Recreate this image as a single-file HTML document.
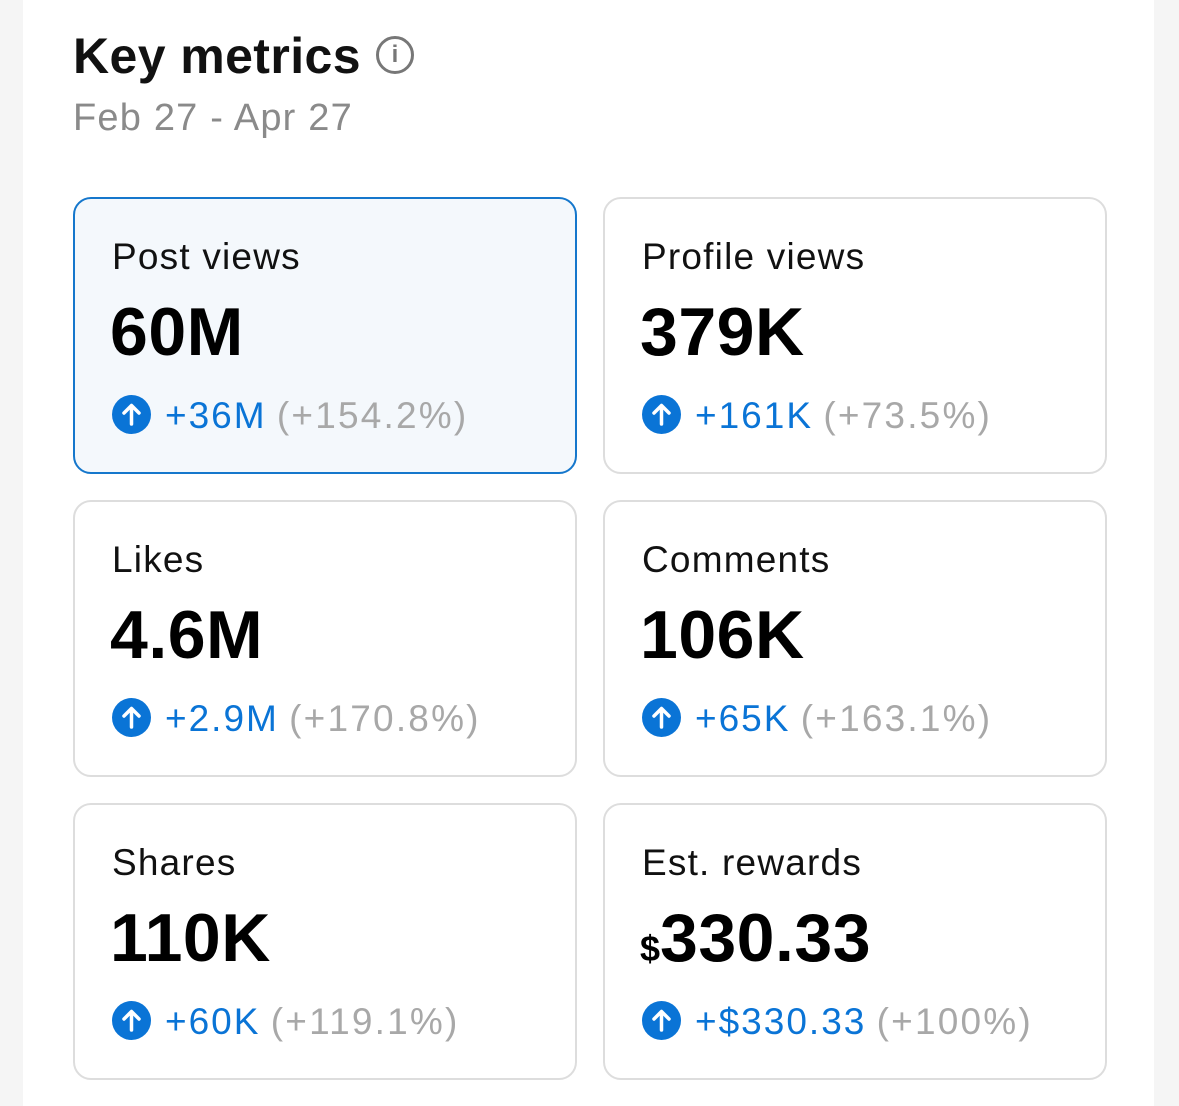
<!DOCTYPE html>
<html><head><meta charset="utf-8"><style>
body{margin:0;width:1179px;height:1106px;background:#f5f5f5;font-family:"Liberation Sans",sans-serif;overflow:hidden;position:relative}
.panel{position:absolute;left:23px;top:0;width:1131px;height:1106px;background:#fff}
.title{position:absolute;left:73px;top:27px;font-size:50px;font-weight:bold;color:#111;letter-spacing:0.4px}
.info{position:absolute;left:376px;top:36px;width:38px;height:38px;border:3px solid #777;border-radius:50%;box-sizing:border-box;color:#777;font-size:24px;font-weight:bold;text-align:center;line-height:32px}
.date{position:absolute;left:73px;top:97px;font-size:38px;color:#8a8a8a;letter-spacing:1.2px}
.card{position:absolute;width:504px;height:277px;border:2px solid #ddd;border-radius:18px;box-sizing:border-box;background:#fff}
.card.sel{border-color:#1577cc;background:#f4f8fc}
.lbl{position:absolute;left:37px;top:37px;font-size:37px;color:#111;letter-spacing:1.2px}
.val{position:absolute;left:35px;top:94px;font-size:68px;font-weight:bold;color:#000;letter-spacing:0.5px}
.val small{font-size:36px;letter-spacing:0}
.delta{position:absolute;left:37px;top:196px;font-size:37px;white-space:nowrap}
.up{display:inline-block;width:39px;height:39px;border-radius:50%;background:#0a74d6;vertical-align:-6px;margin-right:14px;position:relative}
.up svg{position:absolute;left:0;top:0}
.b{color:#0a74d6;letter-spacing:2px}.g{color:#a8a8a8;letter-spacing:2.2px}
</style></head><body>
<div class="panel"></div>
<div class="title">Key metrics</div>
<div class="info">i</div>
<div class="date">Feb 27 - Apr 27</div>
<div id="cards"></div>
<script>
const labels=["Post views","Profile views","Likes","Comments","Shares","Est. rewards"];
const values=["60M","379K","4.6M","106K","110K","330.33"];
const deltas=["+36M","+161K","+2.9M","+65K","+60K","+$330.33"];
const pcts=["(+154.2%)","(+73.5%)","(+170.8%)","(+163.1%)","(+119.1%)","(+100%)"];
const c=document.getElementById('cards');
labels.forEach((l,i)=>{
 const d=document.createElement('div');
 d.className='card'+(i===0?' sel':'');
 d.style.left=(i%2?603:73)+'px';
 d.style.top=(197+Math.floor(i/2)*303)+'px';
 
 
 const v=i===5?'<small>$</small>'+values[i]:values[i];
 d.innerHTML='<div class="lbl">'+l+'</div><div class="val">'+v+'</div><div class="delta"><span class="up"><svg width="39" height="39" viewBox="0 0 39 39"><path d="M19.5 29V11M12 18l7.5-7.5L27 18" stroke="#fff" stroke-width="3.5" fill="none" stroke-linecap="round" stroke-linejoin="round"/></svg></span><span class="b">'+deltas[i]+'</span> <span class="g">'+pcts[i]+'</span></div>';
 c.appendChild(d);
});
</script>
</body></html>
